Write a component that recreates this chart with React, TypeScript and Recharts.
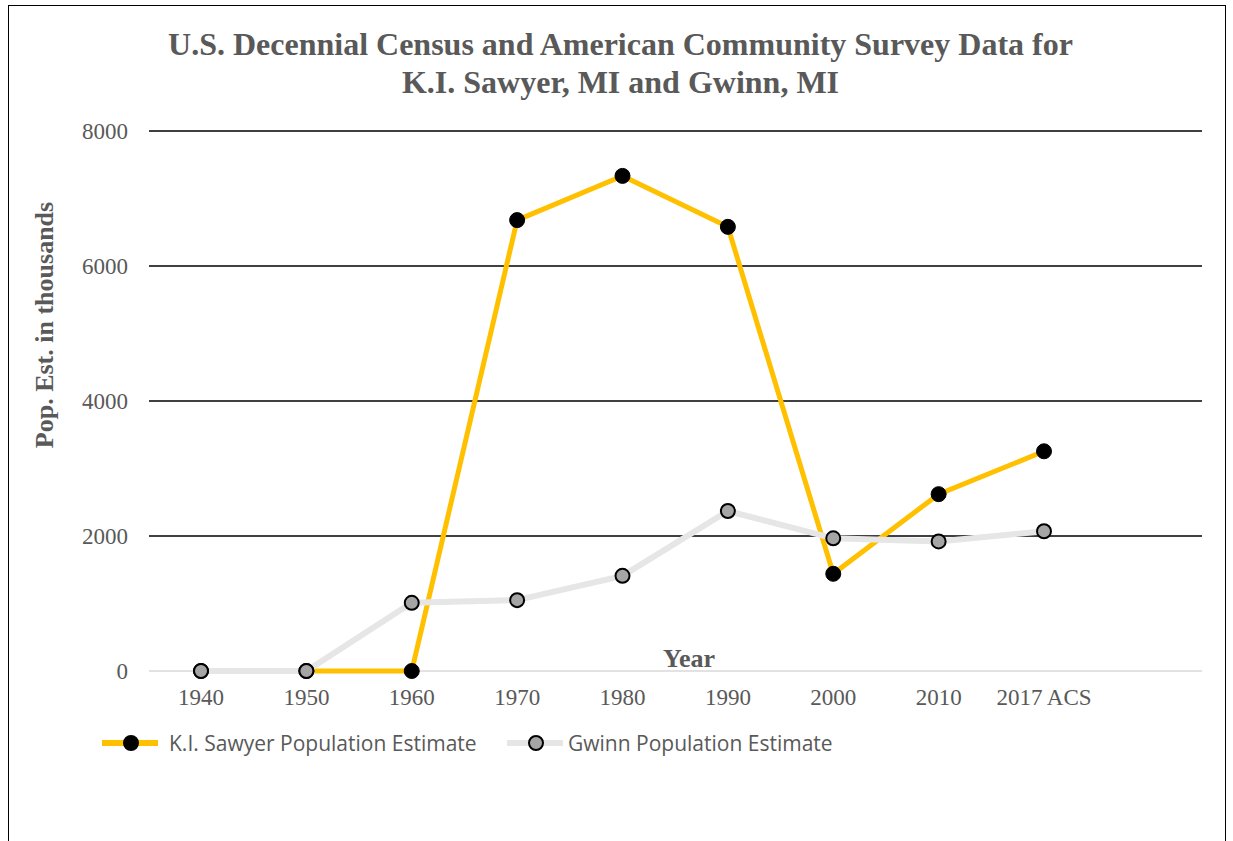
import React from 'react';
import { LineChart, Line, XAxis, YAxis, CartesianGrid } from 'recharts';

// Census years plus the 2017 ACS estimate
const years = ['1940', '1950', '1960', '1970', '1980', '1990', '2000', '2010', '2017 ACS'];
const sawyerPop = [0, 0, 0, 6680, 7335, 6580, 1440, 2620, 3255];
const gwinnPop = [0, 0, 1010, 1050, 1410, 2370, 1965, 1920, 2070];
const yTicks = [0, 2000, 4000, 6000, 8000];

const seriesNames = {
  sawyer: 'K.I. Sawyer Population Estimate',
  gwinn: 'Gwinn Population Estimate',
};

const data = years.map((year, i) => ({
  year,
  sawyer: sawyerPop[i],
  gwinn: gwinnPop[i],
}));

const GOLD = '#FFC000';
const LIGHT = '#E6E6E6';
const TEXT = '#595959';
const SERIF = '"Liberation Serif", "Times New Roman", serif';

// black gridlines, except the baseline which stays light gray
function GridLine(props: any) {
  const { x1, x2, y1, y2, y, height } = props;
  const isBase = Math.abs(y1 - (y + height)) < 1;
  return (
    <line
      x1={x1}
      x2={x2}
      y1={y1}
      y2={y2}
      stroke={isBase ? '#D9D9D9' : '#000'}
      strokeWidth={1.5}
    />
  );
}

function LegendRow() {
  const items = [
    { name: seriesNames.sawyer, line: GOLD, fill: '#000', left: 102, gap: 11 },
    { name: seriesNames.gwinn, line: LIGHT, fill: '#A5A5A5', left: 507, gap: 5 },
  ];
  return (
    <>
      {items.map((it) => (
        <div
          key={it.name}
          style={{ position: 'absolute', left: it.left, top: 728, height: 30, display: 'flex', alignItems: 'center' }}
        >
          <svg width={56} height={20}>
            <line x1={0} y1={10} x2={56} y2={10} stroke={it.line} strokeWidth={6} />
            <circle cx={29} cy={10} r={7} fill={it.fill} stroke="#000" strokeWidth={2} />
          </svg>
          <span
            style={{
              marginLeft: it.gap,
              fontFamily: '"Open Sans", sans-serif',
              fontSize: 21,
              color: TEXT,
              whiteSpace: 'nowrap',
            }}
          >
            {it.name}
          </span>
        </div>
      ))}
    </>
  );
}

export default function App() {
  return (
    <div style={{ position: 'absolute', left: 0, top: 0, width: 1233, height: 841, overflow: 'hidden', background: '#fff' }}>
      <div
        style={{
          position: 'absolute',
          left: 8,
          top: 5,
          width: 1218,
          height: 860,
          border: '1.5px solid #000',
          boxSizing: 'border-box',
        }}
      />
      <div
        style={{
          position: 'absolute',
          left: 0,
          width: 1233,
          top: 25,
          textAlign: 'center',
          fontFamily: SERIF,
          fontWeight: 'bold',
          fontSize: 32,
          lineHeight: '38px',
          color: TEXT,
          paddingLeft: 8,
          boxSizing: 'border-box',
        }}
      >
        U.S. Decennial Census and American Community Survey Data for
        <br />
        K.I. Sawyer, MI and Gwinn, MI
      </div>
      <div
        style={{
          position: 'absolute',
          left: 45,
          top: 325,
          transform: 'translate(-50%, -50%) rotate(-90deg)',
          fontFamily: SERIF,
          fontWeight: 'bold',
          fontSize: 26,
          color: TEXT,
          whiteSpace: 'nowrap',
        }}
      >
        Pop. Est. in thousands
      </div>
      <LineChart
        width={1233}
        height={841}
        data={data}
        margin={{ top: 131, right: 31, bottom: 140, left: 89 }}
        style={{ position: 'absolute', left: 0, top: 0 }}
      >
        <CartesianGrid vertical={false} horizontal={(p: any) => <GridLine key={p.key} {...p} />} />
        <XAxis
          dataKey="year"
          height={30}
          padding={{ left: 52, right: 158 }}
          axisLine={false}
          tickLine={false}
          tickMargin={12}
          interval={0}
          tick={{ fill: TEXT, fontSize: 23, fontFamily: SERIF }}
        />
        <YAxis
          width={60}
          domain={[0, 8000]}
          ticks={yTicks}
          axisLine={false}
          tickLine={false}
          tickMargin={15}
          tick={{ fill: TEXT, fontSize: 23, fontFamily: SERIF }}
        />
        <Line
          dataKey="sawyer"
          name={seriesNames.sawyer}
          stroke={GOLD}
          strokeWidth={5}
          dot={{ r: 7.5, fill: '#000', stroke: '#000', strokeWidth: 1 }}
          isAnimationActive={false}
        />
        <Line
          dataKey="gwinn"
          name={seriesNames.gwinn}
          stroke={LIGHT}
          strokeWidth={6}
          dot={{ r: 7, fill: '#A5A5A5', stroke: '#000', strokeWidth: 2 }}
          isAnimationActive={false}
        />
      </LineChart>
      <div
        style={{
          position: 'absolute',
          left: 689,
          top: 659,
          transform: 'translate(-50%, -50%)',
          fontFamily: SERIF,
          fontWeight: 'bold',
          fontSize: 26,
          color: TEXT,
        }}
      >
        Year
      </div>
      <LegendRow />
    </div>
  );
}
